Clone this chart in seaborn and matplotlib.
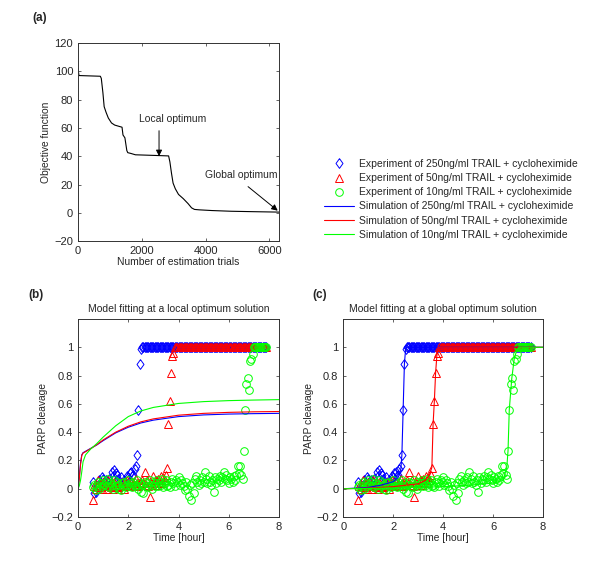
import matplotlib
matplotlib.use("Agg")
import matplotlib.pyplot as plt
import seaborn as sns

# ─── Visual setup ────────────────────────────────────────────
sns.set_theme(style="ticks")
plt.rcParams.update({
    "font.family":       ["Liberation Sans", "DejaVu Sans"],
    "font.size":         7.5,
    "xtick.direction":   "in",
    "ytick.direction":   "in",
    "xtick.top":         True,
    "ytick.right":       True,
    "xtick.major.size":  2.5,
    "ytick.major.size":  2.5,
    "xtick.major.width": 0.5,
    "ytick.major.width": 0.5,
    "axes.linewidth":    0.7,
    "axes.edgecolor":    "#333333",
    "xtick.labelsize":   8,
    "ytick.labelsize":   8,
    "axes.labelsize":    7.4,
})

BLUE, RED, GREEN = "#0000ff", "#ff0000", "#00ff00"

# ─── (a) objective function vs. estimation trials ────────────
TRIALS = [0, 30, 700, 730, 780, 820, 880, 950, 1050, 1150, 1300, 1380, 1410,
          1470, 1530, 1560, 1650, 1800, 2200, 2600, 2840, 2880, 2930, 2980,
          3050, 3150, 3300, 3450, 3560, 3650, 3800, 4200, 4800, 5500, 6300]
OBJECTIVE = [102, 97, 96.5, 95, 85, 75, 71, 67, 63.5, 62, 61, 60.5, 55,
             53, 44, 42.5, 42, 41, 40.7, 40.4, 40.2, 36, 28, 21,
             17, 13, 10, 6.5, 3.5, 2.4, 2.1, 1.6, 1.1, 0.8, 0.5]

# ─── Experimental PARP cleavage (shared time grid, hours) ────
T_EXP = [0.60, 0.65, 0.70, 0.75, 0.80, 0.85, 0.90, 0.95, 1.00, 1.05,
         1.10, 1.15, 1.20, 1.25, 1.30, 1.35, 1.40, 1.45, 1.50, 1.55,
         1.60, 1.65, 1.70, 1.75, 1.80, 1.85, 1.90, 1.95, 2.00, 2.05,
         2.10, 2.15, 2.20, 2.25, 2.30, 2.35, 2.40, 2.45, 2.50, 2.55,
         2.60, 2.65, 2.70, 2.75, 2.80, 2.85, 2.90, 2.95, 3.00, 3.05,
         3.10, 3.15, 3.20, 3.25, 3.30, 3.35, 3.40, 3.45, 3.50, 3.55,
         3.60, 3.65, 3.70, 3.75, 3.80, 3.85, 3.90, 3.95, 4.00, 4.05,
         4.10, 4.15, 4.20, 4.25, 4.30, 4.35, 4.40, 4.45, 4.50, 4.55,
         4.60, 4.65, 4.70, 4.75, 4.80, 4.85, 4.90, 4.95, 5.00, 5.05,
         5.10, 5.15, 5.20, 5.25, 5.30, 5.35, 5.40, 5.45, 5.50, 5.55,
         5.60, 5.65, 5.70, 5.75, 5.80, 5.85, 5.90, 5.95, 6.00, 6.05,
         6.10, 6.15, 6.20, 6.25, 6.30, 6.35, 6.40, 6.45, 6.50, 6.55,
         6.60, 6.65, 6.70, 6.75, 6.80, 6.85, 6.90, 6.95, 7.00, 7.05,
         7.10, 7.15, 7.20, 7.25, 7.30, 7.35, 7.40, 7.45, 7.50]

EXP_250 = [0.05, -0.03, -0.02, 0.01, 0.03, 0.06, 0.04, 0.08, 0.07, 0.05,
           0.06, 0.03, 0.05, 0.07, 0.04, 0.12, 0.09, 0.13, 0.11, 0.10,
           0.07, 0.05, 0.08, 0.02, 0.04, 0.06, 0.03, 0.09, 0.08, 0.11,
           0.12, 0.09, 0.10, 0.14, 0.16, 0.24, 0.56, 0.88, 0.99, 1,
           1, 1, 1, 1, 1, 1, 1, 1, 1, 1,
           1, 1, 1, 1, 1, 1, 1, 1, 1, 1,
           1, 1, 1, 1, 1, 1, 1, 1, 1, 1,
           1, 1, 1, 1, 1, 1, 1, 1, 1, 1,
           1, 1, 1, 1, 1, 1, 1, 1, 1, 1,
           1, 1, 1, 1, 1, 1, 1, 1, 1, 1,
           1, 1, 1, 1, 1, 1, 1, 1, 1, 1,
           1, 1, 1, 1, 1, 1, 1, 1, 1, 1,
           1, 1, 1, 1, 1, 1, 1, 1, 1, 1,
           1, 1, 1, 1, 1, 1, 1, 1, 1]

EXP_50 = [-0.08, 0.02, 0.00, 0.03, 0.06, 0.01, 0.04, 0.00, 0.05, 0.02,
          0.03, 0.00, 0.06, 0.02, 0.01, 0.04, 0.00, 0.05, 0.03, 0.02,
          0.01, 0.04, 0.02, 0.05, 0.03, 0.00, 0.04, 0.06, 0.02, 0.03,
          0.05, 0.02, 0.04, 0.03, 0.07, 0.04, 0.02, 0.05, 0.03, 0.06,
          0.04, 0.12, 0.03, 0.06, 0.02, -0.06, 0.05, 0.03, 0.09, 0.04,
          0.06, 0.03, 0.07, 0.05, 0.09, 0.04, 0.08, 0.06, 0.10, 0.15,
          0.46, 0.62, 0.82, 0.94, 0.96, 1, 1, 1, 1, 1,
          1, 1, 1, 1, 1, 1, 1, 1, 1, 1,
          1, 1, 1, 1, 1, 1, 1, 1, 1, 1,
          1, 1, 1, 1, 1, 1, 1, 1, 1, 1,
          1, 1, 1, 1, 1, 1, 1, 1, 1, 1,
          1, 1, 1, 1, 1, 1, 1, 1, 1, 1,
          1, 1, 1, 1, 1, 1, 1, 1, 1, 1,
          1, 1, 1, 1, 1, 1, 1, 1, 1]

EXP_10 = [0.01, 0.03, -0.01, 0.02, 0.05, 0.00, 0.04, 0.02, 0.06, 0.03,
          0.05, 0.02, 0.07, 0.01, 0.04, 0.03, 0.00, 0.06, 0.02, 0.05,
          0.03, 0.00, -0.01, 0.04, 0.02, 0.05, 0.01, 0.03, 0.06, 0.02,
          0.04, 0.01, 0.05, 0.02, 0.03, 0.06, 0.00, 0.04, -0.02, 0.03,
          -0.03, 0.05, 0.02, 0.04, 0.01, 0.06, 0.03, 0.00, 0.05, 0.02,
          0.04, 0.06, 0.02, 0.05, 0.03, 0.07, 0.01, 0.04, 0.06, 0.02,
          0.03, 0.01, 0.05, 0.07, 0.04, 0.02, 0.06, 0.05, 0.08, 0.03,
          0.06, 0.04, 0.02, -0.01, 0.05, 0.00, -0.05, 0.03, -0.08, 0.04,
          -0.03, 0.07, 0.09, 0.05, 0.03, 0.06, 0.04, 0.08, 0.05, 0.12,
          0.07, 0.04, 0.09, 0.05, 0.03, 0.06, -0.02, 0.08, 0.04, 0.07,
          0.06, 0.09, 0.05, 0.08, 0.12, 0.07, 0.10, 0.06, 0.04, 0.08,
          0.07, 0.05, 0.09, 0.06, 0.10, 0.16, 0.11, 0.16, 0.10, 0.07,
          0.27, 0.56, 0.74, 0.78, 0.70, 0.90, 0.92, 0.95, 1, 1,
          1, 1, 1, 1, 1, 1, 1, 1, 1]

# ─── Simulations at the local optimum (b) ────────────────────
T_SIM_B = [0, 0.05, 0.1, 0.15, 0.2, 0.3, 0.5, 0.75, 1, 1.5, 2, 2.5, 3, 4,
           5, 6, 7, 8]
SIM_B_250 = [0, 0.08, 0.18, 0.24, 0.255, 0.265, 0.285, 0.31, 0.34, 0.395,
             0.435, 0.465, 0.485, 0.51, 0.522, 0.528, 0.531, 0.533]
SIM_B_50 = [0, 0.07, 0.17, 0.235, 0.252, 0.262, 0.283, 0.312, 0.345, 0.40,
            0.442, 0.473, 0.494, 0.52, 0.533, 0.54, 0.544, 0.546]
SIM_B_10 = [0, 0.02, 0.06, 0.12, 0.19, 0.24, 0.28, 0.32, 0.365, 0.445,
            0.51, 0.55, 0.575, 0.603, 0.616, 0.623, 0.627, 0.63]

# ─── Simulations at the global optimum (c) ───────────────────
T_SIM_C_250 = [0, 1, 1.5, 2, 2.2, 2.3, 2.35, 2.4, 2.45, 2.5, 2.55, 8]
SIM_C_250 = [0, 0.01, 0.025, 0.05, 0.08, 0.12, 0.24, 0.56, 0.88, 0.99, 1, 1]
T_SIM_C_50 = [0, 1, 2, 3, 3.3, 3.45, 3.55, 3.6, 3.65, 3.7, 3.75, 3.8, 8]
SIM_C_50 = [0, 0.005, 0.015, 0.035, 0.06, 0.10, 0.15, 0.46, 0.62, 0.82,
            0.94, 1, 1]
T_SIM_C_10 = [0, 2, 4, 5, 6, 6.4, 6.55, 6.6, 6.65, 6.75, 6.85, 6.95, 7.05, 8]
SIM_C_10 = [0, 0.005, 0.015, 0.025, 0.04, 0.06, 0.15, 0.27, 0.56, 0.78,
            0.92, 0.98, 1, 1]

LABELS = [
    "Experiment of 250ng/ml TRAIL + cycloheximide",
    "Experiment of 50ng/ml TRAIL + cycloheximide",
    "Experiment of 10ng/ml TRAIL + cycloheximide",
    "Simulation of 250ng/ml TRAIL + cycloheximide",
    "Simulation of 50ng/ml TRAIL + cycloheximide",
    "Simulation of 10ng/ml TRAIL + cycloheximide",
]

DIAMOND = [(0, 1), (0.72, 0), (0, -1), (-0.72, 0), (0, 1)]

fig = plt.figure(figsize=(6.0, 5.81), dpi=100)
ax_a = fig.add_axes([0.130, 0.585, 0.335, 0.341])
ax_b = fig.add_axes([0.130, 0.110, 0.335, 0.341])
ax_c = fig.add_axes([0.572, 0.110, 0.333, 0.341])

# Panel (a)
sns.lineplot(x=TRIALS, y=OBJECTIVE, color="black", lw=0.8,
             estimator=None, sort=False, ax=ax_a)
ax_a.set_xlim(0, 6300)
ax_a.set_ylim(-20, 120)
ax_a.set_xticks([0, 2000, 4000, 6000])
ax_a.set_yticks(range(-20, 121, 20))
ax_a.set_xlabel("Number of estimation trials", labelpad=1)
ax_a.set_ylabel("Objective function", labelpad=2)
arrow = dict(arrowstyle="-|>", color="black", lw=0.7, mutation_scale=9,
             shrinkA=0, shrinkB=0)
ax_a.annotate("", xy=(2540, 40), xytext=(2540, 58), arrowprops=arrow)
ax_a.text(2980, 66, "Local optimum", ha="center", va="center", fontsize=7.5)
ax_a.annotate("", xy=(6260, 1.5), xytext=(5330, 18.5), arrowprops=arrow)
ax_a.text(5120, 27, "Global optimum", ha="center", va="center", fontsize=7.5)


def experiments(ax):
    mk = dict(ls="none", mfc="none", mew=0.7)
    h1, = ax.plot(T_EXP, EXP_250, marker=DIAMOND, ms=7, mec=BLUE, **mk)
    h2, = ax.plot(T_EXP, EXP_50, marker="^", ms=6, mec=RED, **mk)
    h3, = ax.plot(T_EXP, EXP_10, marker="o", ms=5.5, mec=GREEN, **mk)
    return [h1, h2, h3]


def sim(ax, t, y, color):
    sns.lineplot(x=t, y=y, color=color, lw=0.8, estimator=None, ax=ax)
    return ax.get_lines()[-1]


def style_time_axis(ax, title):
    ax.set_xlim(0, 8)
    ax.set_ylim(-0.2, 1.2)
    ax.set_xticks([0, 2, 4, 6, 8])
    ax.set_yticks([-0.2, 0, 0.2, 0.4, 0.6, 0.8, 1])
    ax.set_yticklabels(["\u22120.2", "0", "0.2", "0.4", "0.6", "0.8", "1"])
    ax.set_xlabel("Time [hour]", labelpad=1)
    ax.set_ylabel("PARP cleavage", labelpad=2)
    ax.set_title(title, fontsize=7.5, pad=5)


# Panel (b)
handles = experiments(ax_b)
handles += [sim(ax_b, T_SIM_B, SIM_B_250, BLUE),
            sim(ax_b, T_SIM_B, SIM_B_50, RED),
            sim(ax_b, T_SIM_B, SIM_B_10, GREEN)]
style_time_axis(ax_b, "Model fitting at a local optimum solution")

# Panel (c)
experiments(ax_c)
sim(ax_c, T_SIM_C_250, SIM_C_250, BLUE)
sim(ax_c, T_SIM_C_50, SIM_C_50, RED)
sim(ax_c, T_SIM_C_10, SIM_C_10, GREEN)
style_time_axis(ax_c, "Model fitting at a global optimum solution")

fig.legend(handles, LABELS, loc="upper left",
           bbox_to_anchor=(324 / 600, 1 - 159 / 581),
           frameon=False, fontsize=7.5, handlelength=2.9,
           handletextpad=0.5, labelspacing=0.4, borderpad=0,
           borderaxespad=0)

fig.text(32 / 600, 1 - 18 / 581, "(a)", fontsize=8.5, fontweight="bold",
         va="center")
fig.text(28 / 600, 1 - 295 / 581, "(b)", fontsize=8.5, fontweight="bold",
         va="center")
fig.text(312 / 600, 1 - 295 / 581, "(c)", fontsize=8.5, fontweight="bold",
         va="center")

fig.savefig("out.png", dpi=100, facecolor="white")
